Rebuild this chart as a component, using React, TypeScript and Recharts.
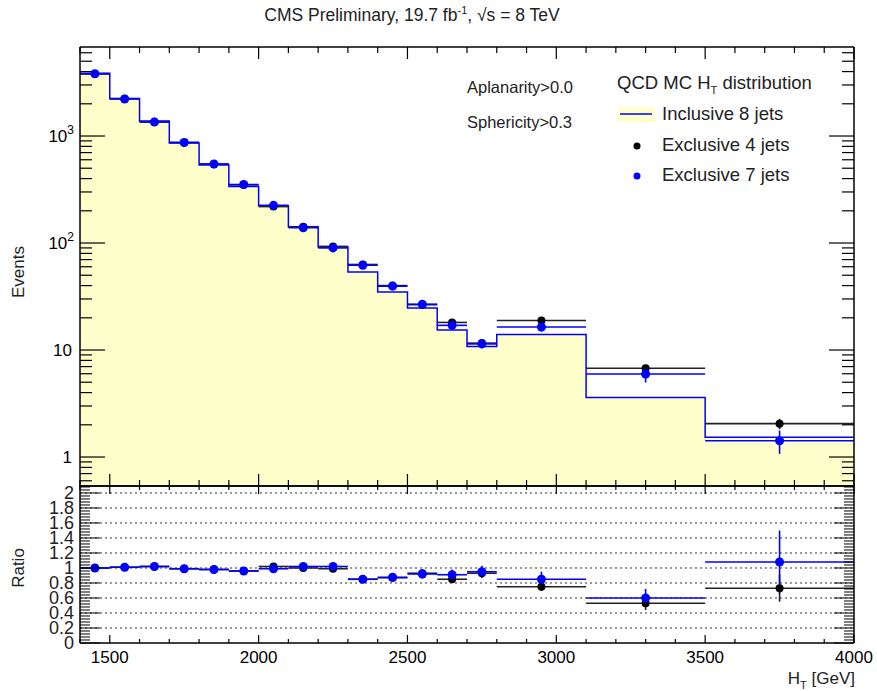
import React from "react";
import { ComposedChart, Area, Scatter, ErrorBar, XAxis, YAxis, ReferenceLine } from "recharts";

const FONT = "'Liberation Sans', Arial, Helvetica, sans-serif";
const BLUE = "#0000ff";
const FILL = "#ffffcc";

// bin edges of the H_T histogram (GeV)
const binEdges = [1400, 1500, 1600, 1700, 1800, 1900, 2000, 2100, 2200, 2300, 2400, 2500, 2600, 2700, 2800, 3100, 3500, 4000];

// upper panel: events per bin
const inclusive8 = [3850, 2240, 1380, 860, 537, 338, 223, 142, 92, 53.5, 34.8, 24.7, 15.4, 10.8, 14.0, 3.6, 1.53];
const exclusive4 = [3800, 2230, 1360, 870, 545, 350, 219, 142, 93, 63, 40, 26.5, 18.1, 11.6, 18.9, 6.75, 2.05];
const exclusive4Err = [20, 15, 10, 7, 5, 3, 2, 1.5, 1.2, 1.0, 0.8, 0.7, 0.8, 0.6, 1.2, 0.4, 0.23];
const exclusive7 = [3820, 2220, 1350, 870, 548, 352, 225, 139, 90, 62, 39.5, 26.8, 17, 11.4, 16.4, 5.97, 1.42];
const exclusive7Err = [40, 30, 20, 12, 8, 6, 4, 3, 2, 1.8, 1.5, 1.2, 1.2, 1.0, 1.5, 1.0, 0.35];

// lower panel: ratio inclusive / exclusive
const ratio4 = [1.0, 1.01, 1.02, 0.99, 0.98, 0.96, 1.02, 1.0, 0.99, 0.85, 0.87, 0.93, 0.85, 0.93, 0.75, 0.53, 0.73];
const ratio4Err = [0.01, 0.01, 0.01, 0.01, 0.01, 0.01, 0.015, 0.015, 0.02, 0.02, 0.03, 0.04, 0.04, 0.06, 0.055, 0.09, 0.18];
const ratio7 = [1.0, 1.01, 1.02, 0.99, 0.98, 0.96, 0.99, 1.02, 1.02, 0.85, 0.876, 0.92, 0.91, 0.95, 0.85, 0.6, 1.08];
const ratio7Err = [0.01, 0.01, 0.01, 0.01, 0.01, 0.015, 0.02, 0.02, 0.03, 0.03, 0.04, 0.06, 0.07, 0.08, 0.1, 0.12, 0.42];

// ticks
const xTicks = [1400, 1500, 1600, 1700, 1800, 1900, 2000, 2100, 2200, 2300, 2400, 2500, 2600, 2700, 2800, 2900, 3000, 3100, 3200, 3300, 3400, 3500, 3600, 3700, 3800, 3900, 4000];
const xMajorTicks = [1500, 2000, 2500, 3000, 3500, 4000];
const yLogTicks = [0.6, 0.7, 0.8, 0.9, 1, 2, 3, 4, 5, 6, 7, 8, 9, 10, 20, 30, 40, 50, 60, 70, 80, 90, 100, 200, 300, 400, 500, 600, 700, 800, 900, 1000, 2000, 3000, 4000, 5000, 6000];
const yLogMajor = [1, 10, 100, 1000];
const ratioMajor = [0, 0.2, 0.4, 0.6, 0.8, 1, 1.2, 1.4, 1.6, 1.8, 2];
const ratioTicks: number[] = [];
for (let i = 0; i <= 52; i++) ratioTicks.push(Math.round(i * 4) / 100);

const histData = binEdges.map((x, i) => ({ x, y: inclusive8[Math.min(i, inclusive8.length - 1)] }));
const centers = inclusive8.map((_, i) => (binEdges[i] + binEdges[i + 1]) / 2);
const halfW = inclusive8.map((_, i) => (binEdges[i + 1] - binEdges[i]) / 2);
const excl4Data = centers.map((x, i) => ({ x, y: exclusive4[i], ex: halfW[i], ey: exclusive4Err[i] }));
const excl7Data = centers.map((x, i) => ({ x, y: exclusive7[i], ex: halfW[i], ey: exclusive7Err[i] }));
const r4Data = centers.map((x, i) => ({ x, y: ratio4[i], ex: halfW[i], ey: ratio4Err[i] }));
const r7Data = centers.map((x, i) => ({ x, y: ratio7[i], ex: halfW[i], ey: ratio7Err[i] }));

const XTick = (props: any) => {
  const { x, y, payload, dir, majorLen, minorLen, label } = props;
  const v = payload.value;
  const isMajor = xMajorTicks.includes(v);
  return (
    <g>
      <line x1={x} x2={x} y1={y} y2={y + dir * (isMajor ? majorLen : minorLen)} stroke="#000" strokeWidth={1.2} />
      {label && isMajor ? (
        <text x={x} y={y + 20} textAnchor="middle" fontSize={17} fontFamily={FONT} fill="#000">{v}</text>
      ) : null}
    </g>
  );
};

const LogYTick = (props: any) => {
  const { x, y, payload, dir, label } = props;
  const v = payload.value;
  const isMajor = yLogMajor.includes(v);
  let txt: React.ReactNode = null;
  if (label && isMajor) {
    if (v === 1 || v === 10) {
      txt = <text x={x - 8} y={y + 6} textAnchor="end" fontSize={17} fontFamily={FONT} fill="#000">{v}</text>;
    } else {
      const exp = String(Math.round(Math.log10(v)));
      txt = (
        <text x={x - 6} y={y + 6} textAnchor="end" fontSize={17} fontFamily={FONT} fill="#000">
          10<tspan dy={-8} fontSize={12}>{exp}</tspan>
        </text>
      );
    }
  }
  return (
    <g>
      <line x1={x} x2={x + dir * (isMajor ? 25 : 12)} y1={y} y2={y} stroke="#000" strokeWidth={1.2} />
      {txt}
    </g>
  );
};

const RatioYTick = (props: any) => {
  const { x, y, payload, dir, label } = props;
  const v = payload.value;
  const isMajor = ratioMajor.includes(v);
  return (
    <g>
      <line x1={x} x2={x + dir * (isMajor ? 20 : 10)} y1={y} y2={y} stroke="#000" strokeWidth={1} />
      {label && isMajor ? (
        <text x={x - 6} y={y + 6} textAnchor="end" fontSize={18} fontFamily={FONT} fill="#222">
          {v === 0 || v === 1 || v === 2 ? String(v) : v.toFixed(1)}
        </text>
      ) : null}
    </g>
  );
};

const dot = (color: string, r: number) => (p: any) => <circle cx={p.cx} cy={p.cy} r={r} fill={color} />;

const axisLine = { stroke: "#000", strokeWidth: 1.5 };

export default function App() {
  return (
    <div style={{ position: "absolute", left: 0, top: 0, width: 877, height: 691, background: "#fff", fontFamily: FONT }}>
      <div style={{ position: "absolute", left: 0, top: 0 }}>
        <ComposedChart width={877} height={490} data={histData} margin={{ top: 46, right: 22, bottom: 3, left: 79 }}>
          <XAxis xAxisId="b" type="number" dataKey="x" domain={[1400, 4000]} allowDataOverflow ticks={xTicks} interval={0}
            height={1} tickSize={0} tickMargin={0} axisLine={axisLine}
            tick={(p: any) => <XTick {...p} dir={-1} majorLen={12} minorLen={6} />} />
          <XAxis xAxisId="t" orientation="top" type="number" dataKey="x" domain={[1400, 4000]} allowDataOverflow ticks={xTicks} interval={0}
            height={1} tickSize={0} tickMargin={0} axisLine={axisLine}
            tick={(p: any) => <XTick {...p} dir={1} majorLen={12} minorLen={6} />} />
          <YAxis yAxisId="l" type="number" dataKey="y" scale="log" domain={[0.536, 6790]} allowDataOverflow ticks={yLogTicks} interval={0}
            width={1} tickSize={0} tickMargin={0} axisLine={axisLine}
            tick={(p: any) => <LogYTick {...p} dir={1} label />} />
          <YAxis yAxisId="r" orientation="right" type="number" dataKey="y" scale="log" domain={[0.536, 6790]} allowDataOverflow ticks={yLogTicks} interval={0}
            width={1} tickSize={0} tickMargin={0} axisLine={axisLine}
            tick={(p: any) => <LogYTick {...p} dir={-1} />} />
          <Area xAxisId="b" yAxisId="l" type="stepAfter" dataKey="y" stroke={BLUE} strokeWidth={1.5} fill={FILL} fillOpacity={1}
            dot={false} activeDot={false} isAnimationActive={false} />
          <Scatter xAxisId="b" yAxisId="l" data={excl4Data} shape={dot("#000", 4)} isAnimationActive={false}>
            <ErrorBar dataKey="ex" direction="x" width={0} stroke="#222" strokeWidth={1.6} isAnimationActive={false} />
            <ErrorBar dataKey="ey" direction="y" width={0} stroke="#222" strokeWidth={1.6} isAnimationActive={false} />
          </Scatter>
          <Scatter xAxisId="b" yAxisId="l" data={excl7Data} shape={dot(BLUE, 4.5)} isAnimationActive={false}>
            <ErrorBar dataKey="ex" direction="x" width={0} stroke={BLUE} strokeWidth={1.6} isAnimationActive={false} />
            <ErrorBar dataKey="ey" direction="y" width={0} stroke={BLUE} strokeWidth={1.6} isAnimationActive={false} />
          </Scatter>
        </ComposedChart>
      </div>

      <div style={{ position: "absolute", left: 0, top: 482 }}>
        <ComposedChart width={877} height={209} margin={{ top: 3, right: 22, bottom: 47, left: 79 }}>
          <XAxis xAxisId="b" type="number" dataKey="x" domain={[1400, 4000]} allowDataOverflow ticks={xTicks} interval={0}
            height={1} tickSize={0} tickMargin={0} axisLine={axisLine}
            tick={(p: any) => <XTick {...p} dir={-1} majorLen={8} minorLen={4} label />} />
          <XAxis xAxisId="t" orientation="top" type="number" dataKey="x" domain={[1400, 4000]} allowDataOverflow ticks={xTicks} interval={0}
            height={1} tickSize={0} tickMargin={0} axisLine={axisLine}
            tick={(p: any) => <XTick {...p} dir={1} majorLen={8} minorLen={4} />} />
          <YAxis yAxisId="l" type="number" dataKey="y" domain={[0, 2.093]} allowDataOverflow ticks={ratioTicks} interval={0}
            width={1} tickSize={0} tickMargin={0} axisLine={axisLine}
            tick={(p: any) => <RatioYTick {...p} dir={1} label />} />
          <YAxis yAxisId="r" orientation="right" type="number" dataKey="y" domain={[0, 2.093]} allowDataOverflow ticks={ratioTicks} interval={0}
            width={1} tickSize={0} tickMargin={0} axisLine={axisLine}
            tick={(p: any) => <RatioYTick {...p} dir={-1} />} />
          {ratioMajor.filter((v) => v > 0).map((v) => (
            <ReferenceLine key={v} xAxisId="b" yAxisId="l" y={v} stroke="#333" strokeWidth={1} strokeDasharray="2 3" />
          ))}
          <Scatter xAxisId="b" yAxisId="l" data={r4Data} shape={dot("#000", 4)} isAnimationActive={false}>
            <ErrorBar dataKey="ex" direction="x" width={0} stroke="#222" strokeWidth={1.6} isAnimationActive={false} />
            <ErrorBar dataKey="ey" direction="y" width={0} stroke="#222" strokeWidth={1.6} isAnimationActive={false} />
          </Scatter>
          <Scatter xAxisId="b" yAxisId="l" data={r7Data} shape={dot(BLUE, 4.5)} isAnimationActive={false}>
            <ErrorBar dataKey="ex" direction="x" width={0} stroke={BLUE} strokeWidth={1.6} isAnimationActive={false} />
            <ErrorBar dataKey="ey" direction="y" width={0} stroke={BLUE} strokeWidth={1.6} isAnimationActive={false} />
          </Scatter>
        </ComposedChart>
      </div>

      <svg width={877} height={691} style={{ position: "absolute", left: 0, top: 0, pointerEvents: "none" }} fontFamily={FONT}>
        <text x={412} y={21} textAnchor="middle" fontSize={17.5} fill="#222">
          CMS Preliminary, 19.7 fb<tspan dy={-7} fontSize={11}>-1</tspan><tspan dy={7}>, {"\u221A"}s = 8 TeV</tspan>
        </text>
        <text x={467} y={93} fontSize={16.5} fill="#222">Aplanarity&gt;0.0</text>
        <text x={467} y={128} fontSize={16.5} fill="#222">Sphericity&gt;0.3</text>
        <text x={617} y={89} fontSize={18.5} fill="#222">
          QCD MC H<tspan dy={5} fontSize={11}>T</tspan><tspan dy={-5}> distribution</tspan>
        </text>
        <rect x={618} y={107} width={37} height={15} fill={FILL} />
        <line x1={620} x2={652} y1={114} y2={114} stroke={BLUE} strokeWidth={1.5} />
        <text x={662} y={120} fontSize={18.5} fill="#222">Inclusive 8 jets</text>
        <circle cx={637} cy={146} r={3.5} fill="#000" />
        <text x={662} y={151} fontSize={18.5} fill="#222">Exclusive 4 jets</text>
        <circle cx={637} cy={176} r={3.5} fill={BLUE} />
        <text x={662} y={181} fontSize={18.5} fill="#222">Exclusive 7 jets</text>
        <text transform="translate(24,272) rotate(-90)" textAnchor="middle" fontSize={17} fill="#222">Events</text>
        <text transform="translate(24,568) rotate(-90)" textAnchor="middle" fontSize={17} fill="#222">Ratio</text>
        <text x={855} y={684} textAnchor="end" fontSize={17} fill="#222">
          H<tspan dy={5} fontSize={11}>T</tspan><tspan dy={-5}> [GeV]</tspan>
        </text>
      </svg>
    </div>
  );
}
